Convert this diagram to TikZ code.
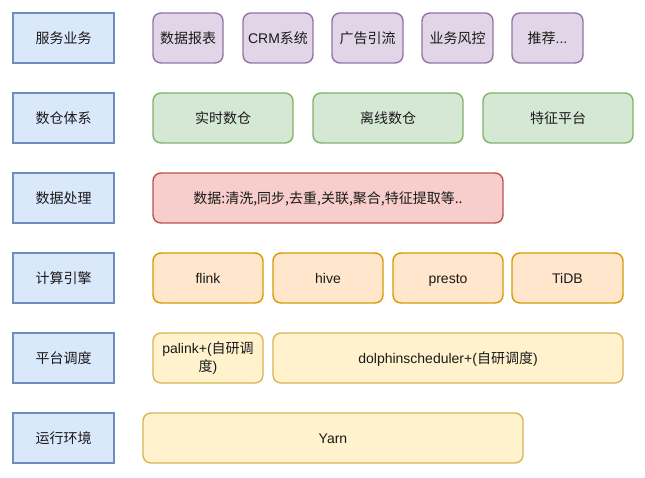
\documentclass[tikz,border=0pt]{standalone}
\usepackage{fontspec}
\setmainfont{Liberation Sans}
\newfontfamily\cjk{Noto Sans CJK SC}
\definecolor{bluef}{HTML}{DAE8FC}\definecolor{blued}{HTML}{6C8EBF}
\definecolor{purf}{HTML}{E1D5E7}\definecolor{purd}{HTML}{9673A6}
\definecolor{grf}{HTML}{D5E8D4}\definecolor{grd}{HTML}{82B366}
\definecolor{redf}{HTML}{F8CECC}\definecolor{redd}{HTML}{B85450}
\definecolor{orf}{HTML}{FFE6CC}\definecolor{ord}{HTML}{D79B00}
\definecolor{yelf}{HTML}{FFF2CC}\definecolor{yeld}{HTML}{D6B656}
\definecolor{txt}{HTML}{1A1A1A}
\tikzset{
  base/.style={draw, line width=1.4pt, inner sep=2pt, outer sep=0pt, anchor=north west,
    font=\fontsize{14}{16}\selectfont, text=txt, align=center, text height=14pt, text depth=3pt},
  lbl/.style={base, fill=bluef, draw=blued, font=\cjk\fontsize{14}{16}\selectfont},
  purb/.style={base, rounded corners=8pt, fill=purf, draw=purd},
  grb/.style={base, rounded corners=8pt, fill=grf, draw=grd},
  redb/.style={base, rounded corners=8pt, fill=redf, draw=redd},
  orb/.style={base, rounded corners=8pt, fill=orf, draw=ord},
  yelb/.style={base, rounded corners=8pt, fill=yelf, draw=yeld},
}
\begin{document}
\begin{tikzpicture}[x=1pt,y=-1pt]
\useasboundingbox[fill=white] (0,0) rectangle (645,478);
% labels
\node[lbl, minimum width=101pt, minimum height=50pt] (l1) at (13,13) {服务业务};
\node[lbl, minimum width=101pt, minimum height=50pt] (l2) at (13,93) {数仓体系};
\node[lbl, minimum width=101pt, minimum height=50pt] (l3) at (13,173) {数据处理};
\node[lbl, minimum width=101pt, minimum height=50pt] (l4) at (13,253) {计算引擎};
\node[lbl, minimum width=101pt, minimum height=50pt] (l5) at (13,333) {平台调度};
\node[lbl, minimum width=101pt, minimum height=50pt] (l6) at (13,413) {运行环境};
% row 1
\node[purb, minimum width=70pt, minimum height=50pt] (p1) at (153,13) {\cjk 数据报表};
\node[purb, minimum width=70pt, minimum height=50pt] (p2) at (243,13) {CRM{\cjk 系统}};
\node[purb, minimum width=71pt, minimum height=50pt] (p3) at (332,13) {\cjk 广告引流};
\node[purb, minimum width=71pt, minimum height=50pt] (p4) at (422,13) {\cjk 业务风控};
\node[purb, minimum width=71pt, minimum height=50pt] (p5) at (512,13) {{\cjk 推荐}...};
% row 2
\node[grb, minimum width=140pt, minimum height=50pt] (g1) at (153,93) {\cjk 实时数仓};
\node[grb, minimum width=150pt, minimum height=50pt] (g2) at (313,93) {\cjk 离线数仓};
\node[grb, minimum width=150pt, minimum height=50pt] (g3) at (483,93) {\cjk 特征平台};
% row 3
\node[redb, minimum width=350pt, minimum height=50pt] (r1) at (153,173) {\cjk 数据:清洗,同步,去重,关联,聚合,特征提取等..};
% row 4
\node[orb, minimum width=110pt, minimum height=50pt] (o1) at (153,253) {flink};
\node[orb, minimum width=110pt, minimum height=50pt] (o2) at (273,253) {hive};
\node[orb, minimum width=110pt, minimum height=50pt] (o3) at (393,253) {presto};
\node[orb, minimum width=111pt, minimum height=50pt] (o4) at (512,253) {TiDB};
% row 5
\node[yelb, minimum width=110pt, minimum height=50pt, text height=, text depth=, font=\fontsize{14}{18}\selectfont] (y1) at (153,333) {palink+({\cjk 自研调}\\{\cjk 度})};
\node[yelb, minimum width=350pt, minimum height=50pt] (y2) at (273,333) {dolphinscheduler+({\cjk 自研调度})};
% row 6
\node[yelb, minimum width=380pt, minimum height=50pt] (y3) at (143,413) {Yarn};
\end{tikzpicture}
\end{document}
